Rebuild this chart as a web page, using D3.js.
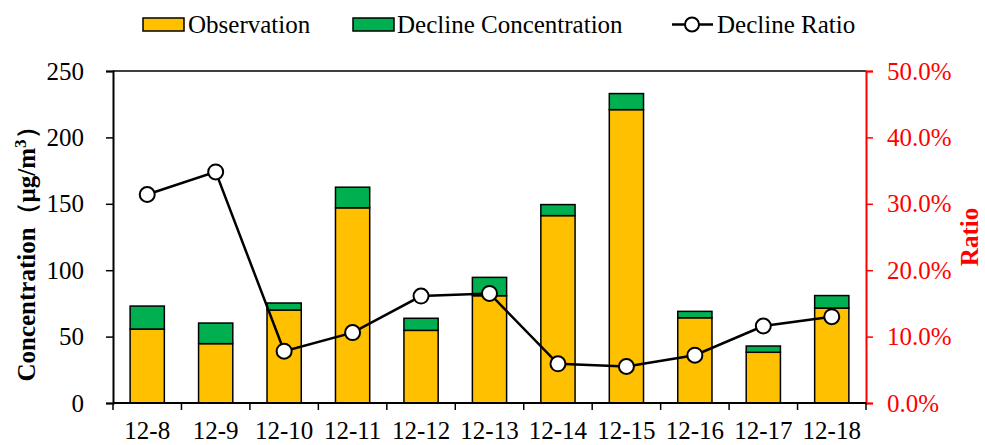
<!DOCTYPE html>
<html><head><meta charset="utf-8">
<script src="https://cdn.jsdelivr.net/npm/d3@7"></script>
<style>body{margin:0;background:#fff}svg{display:block}text{font-family:"Liberation Serif","Times New Roman",serif}</style>
</head><body><svg id="c" width="985" height="445"></svg>
<script>
const categories = ["12-8","12-9","12-10","12-11","12-12","12-13","12-14","12-15","12-16","12-17","12-18"];
const observation = [55.7, 44.7, 70.0, 147.0, 54.7, 80.8, 141.1, 220.9, 64.2, 38.2, 71.5];
const decline = [17.3, 15.5, 5.3, 15.5, 9.1, 13.8, 8.3, 12.1, 4.8, 4.7, 9.4];
const ratio = [31.4, 34.8, 7.8, 10.6, 16.1, 16.5, 5.9, 5.5, 7.2, 11.6, 13.0];
const leftTicks = [0, 50, 100, 150, 200, 250];
const rightTicks = [0, 10, 20, 30, 40, 50];

const FS = 25;
const svg = d3.select("#c");
const m = {l:113, r:866, t:71, b:403};
const x = d3.scaleBand().domain(categories).range([m.l, m.r]).paddingInner(0.5).paddingOuter(0.25);
const xb = d3.scaleBand().domain(categories).range([m.l, m.r]);
const y = d3.scaleLinear().domain([0,250]).range([m.b, m.t]);
const y2 = d3.scaleLinear().domain([0,50]).range([m.b, m.t]);

// top border
svg.append("line").attr("x1",m.l).attr("x2",m.r).attr("y1",m.t).attr("y2",m.t).attr("stroke","#000").attr("stroke-width",1.5);

// bars
const g = svg.append("g");
categories.forEach((c,i)=>{
  g.append("rect").attr("x",x(c)).attr("width",x.bandwidth())
    .attr("y",y(observation[i])).attr("height",y(0)-y(observation[i]))
    .attr("fill","#FFC000").attr("stroke","#000").attr("stroke-width",1.5);
  g.append("rect").attr("x",x(c)).attr("width",x.bandwidth())
    .attr("y",y(observation[i]+decline[i])).attr("height",y(observation[i])-y(observation[i]+decline[i]))
    .attr("fill","#00B050").attr("stroke","#000").attr("stroke-width",1.5);
});

// left axis
const la = svg.append("g").attr("transform",`translate(${m.l},0)`)
  .call(d3.axisLeft(y).tickValues(leftTicks).tickSize(7).tickPadding(22));
la.select(".domain").attr("stroke","#000").attr("stroke-width",2);
la.selectAll(".tick line").attr("stroke","#000").attr("stroke-width",1.5);
la.selectAll("text").attr("font-size",FS).attr("fill","#000").style("font-family","Liberation Serif");

// right axis
const ra = svg.append("g").attr("transform",`translate(${m.r},0)`)
  .call(d3.axisRight(y2).tickValues(rightTicks).tickSize(7).tickPadding(14).tickFormat(d=>d.toFixed(1)+"%"));
ra.select(".domain").attr("stroke","#FF0000").attr("stroke-width",2);
ra.selectAll(".tick line").attr("stroke","#FF0000").attr("stroke-width",1.5);
ra.selectAll("text").attr("font-size",FS).attr("fill","#FF0000").style("font-family","Liberation Serif");

// bottom axis
const ba = svg.append("g").attr("transform",`translate(0,${m.b})`)
  .call(d3.axisBottom(x).tickSize(0).tickPadding(18));
ba.select(".domain").remove();
ba.selectAll("text").attr("font-size",FS).attr("fill","#000").style("font-family","Liberation Serif");
svg.append("line").attr("x1",m.l).attr("x2",m.r).attr("y1",m.b).attr("y2",m.b).attr("stroke","#000").attr("stroke-width",2);
const bticks = categories.map(c=>xb(c)).concat([m.r]);
svg.append("g").selectAll("line").data(bticks).join("line")
  .attr("x1",d=>d).attr("x2",d=>d).attr("y1",m.b).attr("y2",m.b+7).attr("stroke","#000").attr("stroke-width",1.5);

// line
const cx = c => x(c)+x.bandwidth()/2;
svg.append("path").datum(categories).attr("fill","none").attr("stroke","#000").attr("stroke-width",2.5)
  .attr("d", d3.line().x(c=>cx(c)).y((c,i)=>y2(ratio[i])));
svg.append("g").selectAll("circle").data(categories).join("circle")
  .attr("cx",c=>cx(c)).attr("cy",(c,i)=>y2(ratio[i])).attr("r",7.5)
  .attr("fill","#fff").attr("stroke","#000").attr("stroke-width",2);

// axis titles
svg.append("text").attr("transform",`translate(35,248) rotate(-90)`).attr("text-anchor","middle")
  .attr("font-size",FS).attr("font-weight","bold").attr("fill","#000")
  .html('Concentration（μg/m<tspan dy="-9" font-size="17">3</tspan><tspan dy="9">）</tspan>');
svg.append("text").attr("transform",`translate(978,237) rotate(-90)`).attr("text-anchor","middle")
  .attr("font-size",FS).attr("font-weight","bold").attr("fill","#FF0000").text("Ratio");

// legend
const lg = svg.append("g");
lg.append("rect").attr("x",143).attr("y",18).attr("width",41).attr("height",13).attr("fill","#FFC000").attr("stroke","#000").attr("stroke-width",1.5);
lg.append("text").attr("x",188).attr("y",33).attr("font-size",FS).text("Observation");
lg.append("rect").attr("x",353).attr("y",18).attr("width",41).attr("height",13).attr("fill","#00B050").attr("stroke","#000").attr("stroke-width",1.5);
lg.append("text").attr("x",397).attr("y",33).attr("font-size",FS).text("Decline Concentration");
lg.append("line").attr("x1",672).attr("x2",713).attr("y1",24.5).attr("y2",24.5).attr("stroke","#000").attr("stroke-width",2.5);
lg.append("circle").attr("cx",692).attr("cy",24.5).attr("r",7).attr("fill","#fff").attr("stroke","#000").attr("stroke-width",2);
lg.append("text").attr("x",717).attr("y",33).attr("font-size",FS).text("Decline Ratio");
</script></body></html>
